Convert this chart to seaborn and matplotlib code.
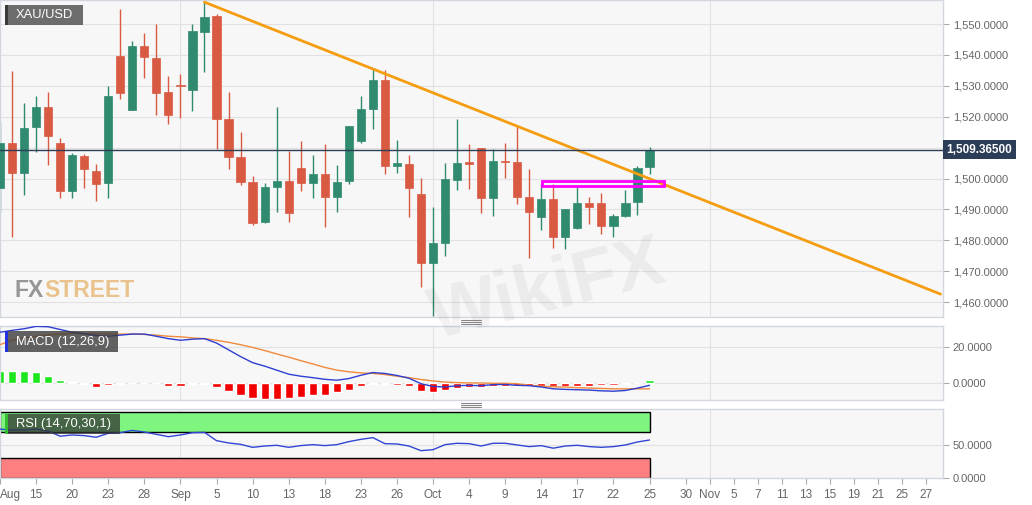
import matplotlib
matplotlib.use("Agg")
import matplotlib.pyplot as plt
import matplotlib.transforms as mtransforms
from matplotlib.lines import Line2D
from matplotlib.patches import Rectangle
from matplotlib.ticker import FuncFormatter
import pandas as pd
import seaborn as sns

# XAU/USD daily candles, Aug 12 - Oct 25 (one entry per trading day)
opens = [1496.9, 1511.5, 1501.8, 1516.7, 1523.1, 1511.5, 1496.0, 1507.3, 1502.4, 1498.5,
         1539.6, 1522.2, 1542.9, 1539.0, 1528.0, 1530.3, 1528.6, 1547.4, 1552.6, 1519.3,
         1507.0, 1498.9, 1485.9, 1497.3, 1499.2, 1503.4, 1498.5, 1501.5, 1494.0, 1499.2,
         1512.1, 1522.5, 1531.9, 1504.0, 1504.7, 1495.0, 1472.7, 1479.1, 1499.5, 1505.3,
         1509.9, 1493.7, 1505.7, 1505.3, 1494.0, 1487.5, 1493.4, 1481.1, 1484.0, 1492.1,
         1492.1, 1484.6, 1487.9, 1492.4, 1503.7]
highs = [1518.3, 1534.8, 1524.4, 1526.7, 1528.0, 1513.1, 1508.3, 1507.9, 1504.7, 1529.9,
         1554.9, 1544.5, 1547.1, 1550.0, 1533.2, 1533.8, 1550.0, 1557.1, 1553.2, 1528.0,
         1515.1, 1500.8, 1498.5, 1523.1, 1508.9, 1512.1, 1507.6, 1511.2, 1504.4, 1517.0,
         1526.7, 1535.8, 1535.1, 1512.5, 1507.6, 1500.2, 1490.8, 1505.0, 1519.3, 1511.2,
         1509.9, 1509.6, 1511.5, 1517.0, 1503.1, 1498.2, 1498.2, 1490.1, 1497.3, 1494.0,
         1495.3, 1488.5, 1496.3, 1504.0, 1510.2]
lows = [1488.8, 1481.1, 1494.7, 1508.6, 1504.4, 1493.7, 1493.7, 1496.9, 1492.7, 1493.7,
        1525.7, 1522.2, 1532.5, 1520.6, 1517.6, 1519.6, 1521.8, 1534.5, 1509.6, 1503.1,
        1497.9, 1485.0, 1485.6, 1489.2, 1485.9, 1496.0, 1493.7, 1484.3, 1489.2, 1498.2,
        1511.5, 1516.0, 1501.5, 1501.8, 1487.5, 1464.9, 1455.5, 1474.9, 1496.3, 1496.6,
        1488.8, 1487.9, 1500.2, 1491.8, 1474.3, 1483.3, 1477.5, 1477.2, 1483.7, 1485.3,
        1482.0, 1481.1, 1487.5, 1488.2, 1501.5]
closes = [1511.5, 1501.8, 1516.3, 1523.1, 1513.8, 1496.0, 1507.6, 1503.1, 1498.2, 1526.7,
          1527.7, 1542.9, 1539.3, 1527.7, 1520.6, 1529.9, 1547.7, 1552.3, 1519.3, 1507.0,
          1498.9, 1485.6, 1497.3, 1499.2, 1488.8, 1498.5, 1501.5, 1494.0, 1498.9, 1517.0,
          1522.5, 1531.9, 1504.0, 1505.0, 1496.9, 1472.7, 1479.1, 1499.8, 1505.0, 1504.7,
          1493.7, 1505.7, 1505.3, 1494.0, 1489.2, 1493.4, 1481.1, 1490.1, 1492.1, 1490.8,
          1484.6, 1487.9, 1492.1, 1503.4, 1509.365]
last_price = 1509.365

# MACD (12,26,9)
macd_line = [27.9, 28.9, 29.8, 31.1, 30.9, 29.4, 27.9, 27.0, 26.1, 25.7,
             26.3, 26.9, 26.9, 25.7, 24.4, 23.5, 24.1, 24.4, 22.0, 18.3,
             14.6, 11.3, 9.4, 7.2, 5.0, 3.9, 3.1, 2.2, 1.7, 2.6,
             4.4, 5.9, 5.4, 4.3, 2.8, -0.2, -1.7, -2.0, -1.3, -1.1,
             -1.3, -0.7, -0.6, -1.1, -1.3, -2.0, -3.0, -3.3, -3.5, -3.7,
             -4.1, -4.3, -3.9, -2.6, -1.1]
signal_line = [21.1, 23.5, 24.8, 25.7, 26.3, 26.9, 27.2, 27.2, 27.0, 26.9,
               26.9, 26.9, 26.7, 26.3, 25.7, 25.4, 24.8, 24.4, 23.5, 22.4,
               21.1, 19.6, 17.9, 16.1, 14.3, 12.4, 10.6, 8.7, 7.2, 6.3,
               5.7, 5.4, 4.8, 3.9, 3.1, 2.1, 1.3, 0.7, 0.4, 0.2,
               0.2, 0.0, 0.0, -0.2, -1.1, -1.5, -1.9, -2.0, -2.4, -2.6,
               -2.8, -3.0, -3.0, -3.0, -3.0]
macd_hist = [6.5, 6.5, 6.5, 6.0, 4.1, 1.9, 0.7, -0.4, -1.9, -1.1,
             -0.5, 0.4, 0.4, 0.1, -1.5, -1.5, -0.6, -0.6, -2.2, -4.3,
             -6.3, -8.0, -8.5, -8.5, -8.0, -7.2, -6.3, -6.3, -5.0, -3.5,
             -1.7, -0.2, -0.6, -0.8, -1.3, -4.0, -4.8, -3.5, -2.4, -1.9,
             -1.9, -1.5, -1.2, -1.5, -1.7, -1.7, -1.7, -1.5, -1.5, -1.3,
             -1.1, -0.9, -0.5, 0.3, 1.8]

# RSI (14,70,30,1)
rsi = [74.3, 72.9, 72.9, 74.3, 71.4, 63.4, 65.3, 64.3, 61.8, 67.8,
       68.8, 72.3, 69.8, 66.3, 62.7, 65.3, 68.8, 69.3, 56.6, 53.1,
       51.0, 46.4, 48.4, 49.5, 46.4, 49.0, 50.5, 49.0, 50.5, 55.1,
       58.6, 61.2, 52.0, 51.5, 48.4, 41.3, 42.8, 50.5, 52.6, 52.0,
       48.4, 52.6, 52.6, 50.0, 47.5, 49.0, 45.1, 48.4, 49.5, 47.5,
       46.4, 47.5, 50.0, 54.6, 57.6]

# trading-day index of the date labels (0 = Aug 12)
tick_idx = [0, 3, 6, 9, 12, 15, 18, 21, 24, 27, 30, 33, 36, 39, 42, 45, 48, 51, 54,
            57, 59, 61, 63, 65, 67, 69, 71, 73, 75, 77]
tick_labels = ["Aug", "15", "20", "23", "28", "Sep", "5", "10", "13", "18", "23", "26",
               "Oct", "4", "9", "14", "17", "22", "25", "30", "Nov", "5", "7", "11",
               "13", "15", "19", "21", "25", "27"]
month_idx = [15, 36, 59]

# downtrend line from the early-September top and the broken resistance zone
trend_idx = [17, 78.2]
trend_price = [1557.1, 1462.6]
zone_idx = [45.1, 55.2]
zone_price = [1497.6, 1499.2]

df = pd.DataFrame({"open": opens, "high": highs, "low": lows, "close": closes,
                   "macd": macd_line, "signal": signal_line, "hist": macd_hist,
                   "rsi": rsi})
df["idx"] = range(len(df))

sns.set_style("white")
plt.rcParams["font.family"] = ["Liberation Sans", "DejaVu Sans"]

W, H = 1032, 505
fig = plt.figure(figsize=(W / 100, H / 100), dpi=100)
fig.patch.set_facecolor("white")


def px_axes(left, top, right, bottom):
    return fig.add_axes([left / W, 1 - bottom / H, (right - left) / W, (bottom - top) / H])


def label_box(x0, y0, x1, y1, text, face, stripe, alpha=0.85):
    fig.add_artist(Rectangle((x0 / W, 1 - y1 / H), (x1 - x0) / W, (y1 - y0) / H,
                             transform=fig.transFigure, fc=face, ec="none", alpha=alpha, zorder=5))
    fig.add_artist(Rectangle((x0 / W, 1 - y1 / H), 2.5 / W, (y1 - y0) / H,
                             transform=fig.transFigure, fc=stripe, ec="none", zorder=6))
    fig.text((x0 + 11) / W, 1 - (y0 + y1) / 2 / H, text, color="white", fontsize=9.3,
             ha="left", va="center", zorder=7)


def gripper(y):
    for dy in (-2, 0, 2):
        fig.add_artist(Line2D([461 / W, 481 / W], [1 - (y + dy) / H] * 2,
                              transform=fig.transFigure, color="#888888", lw=0.8, zorder=5))


ax = px_axes(0, 0, 943, 317)
ax_m = px_axes(0, 326, 943, 400)
ax_r = px_axes(0, 409, 943, 478)
x_max = 78.4

green, red = "#2f8a6f", "#d95a43"
for a in (ax, ax_m, ax_r):
    a.set_facecolor("#f7f7f7")
    a.set_xlim(0, x_max)
    for s in a.spines.values():
        s.set_color("#d3d8e0")
        s.set_linewidth(1)
    a.yaxis.tick_right()
    a.tick_params(axis="y", right=True, left=False, length=4, width=0.8, color="#aaaaaa",
                  labelcolor="#666666", labelsize=8, pad=3)
    a.grid(axis="y", color="#e2e2e2", lw=0.8)
    for m in month_idx:
        a.axvline(m, color="#e2e2e2", lw=0.8, zorder=0)
    a.set_xticks([])
    a.set_axisbelow(True)

# ---- price panel
for r in df.itertuples():
    col = green if r.close >= r.open else red
    ax.vlines(r.idx, r.low, r.high, color=col, lw=1, zorder=2)
    body = max(abs(r.close - r.open), 0.35)
    ax.bar(r.idx, body, bottom=min(r.open, r.close), width=0.68, color=col,
           edgecolor=col, lw=0.5, zorder=3)

sns.lineplot(x=trend_idx, y=trend_price, ax=ax, color="#f59d10", lw=2, zorder=4)
ax.add_patch(Rectangle((zone_idx[0], zone_price[0]), zone_idx[1] - zone_idx[0],
                       zone_price[1] - zone_price[0], fill=False, ec="#ff00ff", lw=2, zorder=5))
ax.axhline(last_price, color="#2b3d57", lw=1, zorder=4)
ax.set_ylim(1455.2, 1557.8)
ax.set_yticks(range(1460, 1551, 10))
# the 1,510 label sits under the last-price tag, so it is left blank
ax.yaxis.set_major_formatter(FuncFormatter(
    lambda v, p: "" if abs(v - last_price) < 3 else f"{v:,.4f}"))
ax.text(1.0035, last_price, f"{last_price:,.5f}", transform=mtransforms.blended_transform_factory(
    ax.transAxes, ax.transData), ha="left", va="center", color="white", fontsize=8.5,
    fontweight="bold", bbox=dict(boxstyle="square,pad=0.3", fc="#2b3d57", ec="none"),
    clip_on=False, zorder=6)

# ---- MACD panel
bar_cols = ["#1ee61e" if v >= 0 else "#f20000" for v in df["hist"]]
ax_m.bar(df["idx"], df["hist"], width=0.68, color=bar_cols, zorder=2)
sns.lineplot(data=df, x="idx", y="signal", ax=ax_m, color="#f08a3c", lw=1, zorder=3)
sns.lineplot(data=df, x="idx", y="macd", ax=ax_m, color="#2e3fd0", lw=1, zorder=4)
ax_m.set_ylim(-9.1, 31.3)
ax_m.set_yticks([0, 20])
ax_m.yaxis.set_major_formatter(FuncFormatter(lambda v, p: f"{v:.4f}"))

# ---- RSI panel
last = df["idx"].iloc[-1]
ax_r.add_patch(Rectangle((0, 70), last, 30, fc="#7ef57e", ec="black", lw=1, zorder=1))
ax_r.add_patch(Rectangle((0, 0), last, 30, fc="#fd7f7f", ec="black", lw=1, zorder=1))
sns.lineplot(data=df, x="idx", y="rsi", ax=ax_r, color="#3145d4", lw=1, zorder=3)
ax_r.set_ylim(-0.5, 105)
ax_r.set_yticks([0, 50])
ax_r.yaxis.set_major_formatter(FuncFormatter(lambda v, p: f"{v:.4f}"))
ax_r.set_xticks(tick_idx)
ax_r.set_xticklabels(tick_labels)
ax_r.tick_params(axis="x", bottom=True, length=4, width=0.8, color="#aaaaaa",
                 labelcolor="#666666", labelsize=8.5, pad=4)
ax_r.get_xticklabels()[0].set_horizontalalignment("left")

for a in (ax, ax_m, ax_r):
    a.set_xlabel("")
    a.set_ylabel("")
    a.set_xlim(0, x_max)

# ---- labels, watermarks, grippers
label_box(5, 5, 83, 25, "XAU/USD", "#555555", "#3a3a3a")
label_box(5, 331, 118, 352, "MACD (12,26,9)", "#3c3c3c", "#2233dd", alpha=0.8)
label_box(5, 414, 120, 434, "RSI (14,70,30,1)", "#333333", "#33bb33", alpha=0.75)
gripper(322)
gripper(405)

fx = fig.text(15 / W, 1 - 297 / H, "FX", color="#8c8c8c", fontsize=16.5, fontweight="bold",
              ha="left", va="baseline", alpha=0.9, zorder=4)
renderer = fig.canvas.get_renderer()
fx_right = fx.get_window_extent(renderer).x1
fig.text(fx_right / W, 1 - 297 / H, "STREET", color="#e9bd80", fontsize=16.5,
         fontweight="bold", ha="left", va="baseline", alpha=0.9, zorder=4)
fig.text(548 / W, 1 - 292 / H, "WikiFX", color="#000000", alpha=0.05, fontsize=52,
         fontweight="bold", rotation=14, ha="center", va="center", zorder=4)

fig.savefig("out.png", dpi=100, facecolor="white")
